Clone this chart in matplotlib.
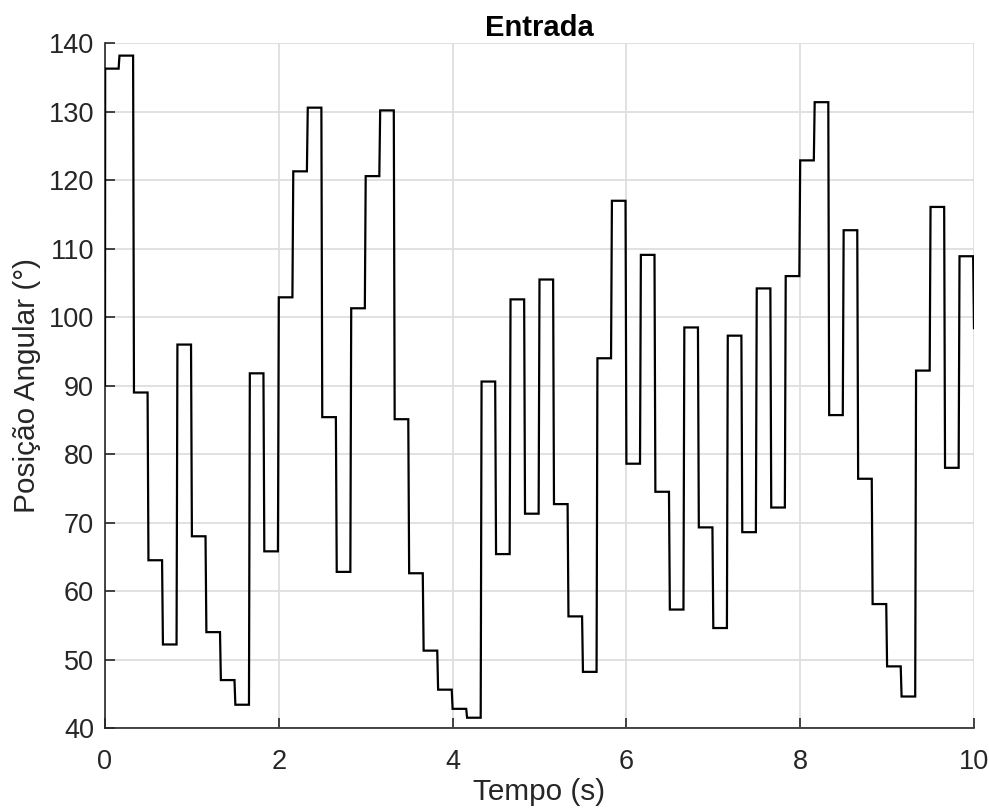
import numpy as np
import matplotlib
matplotlib.use("Agg")
import matplotlib.pyplot as plt

plt.rcParams['font.family'] = ['Liberation Sans', 'DejaVu Sans']

# Step input: one level every 1/6 s
step_period = 1.0 / 6.0
initial_value = 90.0
levels = [136.3, 138.2, 89.0, 64.5, 52.2, 96.0, 68.0, 54.0, 47.0, 43.4,
          91.8, 65.8, 102.9, 121.3, 130.6, 85.4, 62.8, 101.3, 120.6, 130.2,
          85.1, 62.6, 51.3, 45.6, 42.8, 41.5, 90.6, 65.4, 102.6, 71.3,
          105.5, 72.7, 56.3, 48.2, 94.0, 117.0, 78.6, 109.1, 74.5, 57.3,
          98.5, 69.3, 54.6, 97.3, 68.6, 104.2, 72.2, 106.0, 122.9, 131.4,
          85.7, 112.7, 76.4, 58.1, 49.0, 44.6, 92.2, 116.1, 78.0, 108.9,
          98.4]

x_ticks = [0, 2, 4, 6, 8, 10]
y_ticks = [40, 50, 60, 70, 80, 90, 100, 110, 120, 130, 140]
title = "Entrada"
xlabel = "Tempo (s)"
ylabel = "Posição Angular (°)"

# build a sampled staircase (transition over one 0.01 s sample)
dt = 0.01
ts = [0.0]
vs = [initial_value]
for k, v in enumerate(levels):
    t0 = k * step_period
    ts.append(t0 + (dt * 0.2 if k == 0 else 0.0))
    vs.append(v)
    t1 = (k + 1) * step_period - dt
    if t1 > 10:
        break
    ts.append(t1)
    vs.append(v)
ts = np.minimum(np.array(ts), 10.0)
vs = np.array(vs)

W, H = 989, 810
fig = plt.figure(figsize=(W / 100, H / 100), dpi=100)
ax = fig.add_axes([105 / W, 1 - 728 / H, (974 - 105) / W, (728 - 43.3) / H])

ax.plot(ts, vs, color='black', linewidth=1.6, solid_joinstyle='miter', zorder=3)

ax.set_xlim(0, 10)
ax.set_ylim(40, 140)
ax.set_xticks(x_ticks)
ax.set_yticks(y_ticks)
ax.grid(True, color='#dedede', linewidth=1.3)
ax.set_axisbelow(True)

dark = '#262626'
for s in ['top', 'right']:
    ax.spines[s].set_visible(False)
for s in ['left', 'bottom']:
    ax.spines[s].set_color(dark)
    ax.spines[s].set_linewidth(1.2)
ax.tick_params(direction='in', length=7, width=1.2, colors=dark,
               labelsize=19.5, labelcolor=dark)
ax.tick_params(axis='x', pad=15)
ax.tick_params(axis='y', pad=8)

ax.set_title(title, fontsize=21, fontweight='bold', color='black', pad=5)
ax.set_xlabel(xlabel, fontsize=21.4, color=dark, labelpad=2.5)
ax.set_ylabel(ylabel, fontsize=21.4, color=dark, labelpad=5)

fig.savefig("out.png", dpi=100)
